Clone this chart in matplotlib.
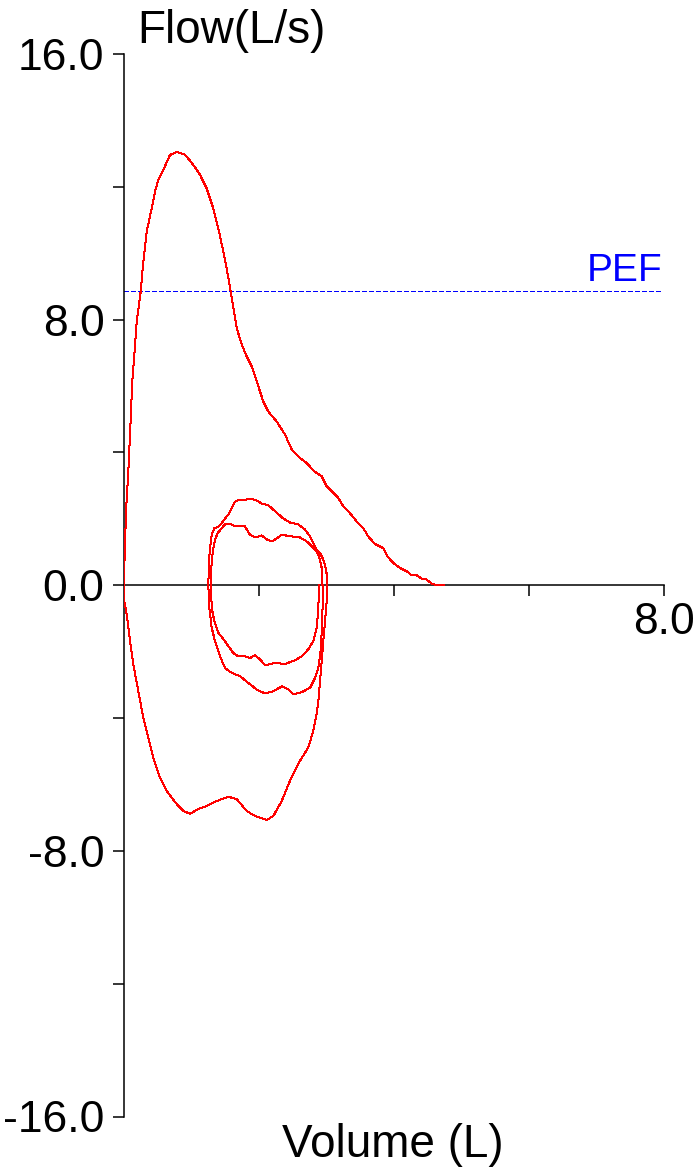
import matplotlib
matplotlib.use("Agg")
import matplotlib.pyplot as plt
from matplotlib.ticker import FixedLocator, FixedFormatter

plt.rcParams['font.family'] = ['Liberation Sans', 'DejaVu Sans']

# ---- data (Volume in L, Flow in L/s) ----
exp_vol = [0.0, 0.007, 0.03, 0.064, 0.089, 0.123, 0.153, 0.188, 0.247, 0.286, 0.336, 0.410, 0.459,
           0.508, 0.582, 0.681, 0.781, 0.904, 1.027, 1.126, 1.225, 1.323, 1.397, 1.471, 1.530,
           1.581, 1.630, 1.670, 1.744, 1.818, 1.892, 1.966, 2.064, 2.138, 2.262, 2.385, 2.484,
           2.607, 2.707, 2.819, 2.929, 3.003, 3.077, 3.175, 3.249, 3.348, 3.447, 3.545, 3.619,
           3.719, 3.841, 3.901, 3.990, 4.089, 4.188, 4.262, 4.336, 4.410, 4.484, 4.559, 4.633, 4.745]
exp_flow = [0.0, 0.72, 2.23, 3.43, 4.54, 6.14, 6.95, 7.94, 8.84, 9.74, 10.65, 11.35, 11.85,
            12.21, 12.51, 12.96, 13.05, 12.97, 12.66, 12.36, 11.95, 11.35, 10.75, 10.05, 9.44,
            8.84, 8.24, 7.74, 7.25, 6.89, 6.59, 6.14, 5.53, 5.23, 4.93, 4.54, 4.09,
            3.83, 3.68, 3.43, 3.28, 2.98, 2.83, 2.63, 2.38, 2.17, 1.92, 1.72, 1.47,
            1.24, 1.12, 0.87, 0.67, 0.52, 0.42, 0.30, 0.30, 0.20, 0.17, 0.05, 0.0, 0.0]

insp_vol = [0.0, 0.004, 0.040, 0.089, 0.138, 0.212, 0.286, 0.360, 0.434, 0.533, 0.633, 0.781,
            0.879, 0.978, 1.101, 1.225, 1.373, 1.545, 1.670, 1.818, 1.941, 2.114, 2.212, 2.336,
            2.459, 2.607, 2.730, 2.804, 2.855, 2.879, 2.904, 2.929, 2.953, 2.978, 3.003, 3.012]
insp_flow = [0.0, -0.48, -0.87, -1.68, -2.38, -3.19, -4.00, -4.60, -5.20, -5.80, -6.20, -6.59,
             -6.80, -6.88, -6.74, -6.65, -6.50, -6.37, -6.44, -6.80, -6.95, -7.07, -6.95, -6.50,
             -5.89, -5.29, -4.89, -4.39, -3.85, -3.49, -2.89, -2.29, -1.68, -1.08, -0.48, 0.0]

tidal1_exp_vol = [1.249, 1.259, 1.274, 1.299, 1.338, 1.388, 1.437, 1.486, 1.545, 1.596, 1.644,
                  1.693, 1.767, 1.867, 1.966, 2.040, 2.138, 2.237, 2.360, 2.459, 2.582, 2.681,
                  2.756, 2.804, 2.855, 2.904, 2.953, 2.988, 3.012, 3.012]
tidal1_exp_flow = [0.0, 0.72, 1.12, 1.52, 1.72, 1.75, 1.84, 1.98, 2.13, 2.32, 2.51,
                   2.57, 2.56, 2.61, 2.55, 2.46, 2.41, 2.23, 2.01, 1.89, 1.83, 1.68,
                   1.47, 1.27, 1.07, 0.97, 0.77, 0.52, 0.22, 0.0]
tidal1_insp_vol = [1.249, 1.264, 1.299, 1.348, 1.422, 1.496, 1.596, 1.719, 1.841, 1.966, 2.089,
                   2.212, 2.345, 2.434, 2.508, 2.633, 2.756, 2.830, 2.879, 2.919, 2.938, 2.953]
tidal1_insp_flow = [0.0, -0.68, -1.28, -1.68, -2.14, -2.49, -2.64, -2.74, -2.94, -3.14, -3.26,
                    -3.19, -3.04, -3.14, -3.29, -3.22, -3.09, -2.79, -2.49, -1.89, -0.88, 0.0]

tidal2_exp_vol = [1.284, 1.299, 1.323, 1.348, 1.388, 1.447, 1.496, 1.570, 1.644, 1.793, 1.867,
                  1.941, 2.040, 2.138, 2.212, 2.336, 2.484, 2.607, 2.707, 2.781, 2.855, 2.904,
                  2.929, 2.938]
tidal2_exp_flow = [0.0, 0.72, 1.12, 1.37, 1.57, 1.72, 1.83, 1.86, 1.77, 1.77, 1.52,
                   1.44, 1.50, 1.35, 1.34, 1.52, 1.47, 1.44, 1.32, 1.17, 1.02, 0.77,
                   0.52, 0.0]
tidal2_insp_vol = [1.289, 1.299, 1.338, 1.397, 1.471, 1.545, 1.619, 1.693, 1.793, 1.867, 1.941,
                   2.015, 2.089, 2.237, 2.385, 2.533, 2.633, 2.730, 2.804, 2.855, 2.879, 2.889]
tidal2_insp_flow = [0.0, -0.68, -1.08, -1.43, -1.62, -1.83, -2.04, -2.14, -2.14, -2.19, -2.11,
                    -2.23, -2.41, -2.34, -2.37, -2.26, -2.14, -1.93, -1.68, -1.28, -0.68, 0.0]

pef_value = 8.86
y_ticks = [-16, -8, 0, 8, 16]
y_tick_labels = ['-16.0', '-8.0', '0.0', '8.0', '16.0']
y_minor = [-12, -4, 4, 12]
x_ticks = [2, 4, 6, 8]
x_tick_labels = ['', '', '', '8.0']

# ---- figure ----
W, H = 695, 1168
fig = plt.figure(figsize=(W / 100, H / 100), dpi=100)
ax = fig.add_axes([124 / W, 1 - 1116.5 / H, 540 / W, 1062.5 / H])
ax.set_xlim(0, 8)
ax.set_ylim(-16, 16)

red = '#ff0000'
for xs, ys in [(exp_vol, exp_flow), (insp_vol, insp_flow),
               (tidal1_exp_vol, tidal1_exp_flow), (tidal1_insp_vol, tidal1_insp_flow),
               (tidal2_exp_vol, tidal2_exp_flow), (tidal2_insp_vol, tidal2_insp_flow)]:
    ax.plot(xs, ys, color=red, lw=0.72, antialiased=False, zorder=3)

# PEF line
ax.plot([0, 7.97], [pef_value, pef_value], color='#0000ff', lw=0.75, antialiased=False,
        linestyle=(0, (4.0, 2.6)), zorder=2)
ax.text(7.97, pef_value + 0.3, 'PEF', color='#0000ff', fontsize=28,
        ha='right', va='baseline')

# spines
for s in ['top', 'right']:
    ax.spines[s].set_visible(False)
ax.spines['bottom'].set_position(('data', 0))
ax.spines['bottom'].set_bounds(0, 8)
ax.spines['left'].set_bounds(-16, 16)
for s in ['bottom', 'left']:
    ax.spines[s].set_linewidth(1.1)
    ax.spines[s].set_color('black')

ax.yaxis.set_major_locator(FixedLocator(y_ticks))
ax.yaxis.set_major_formatter(FixedFormatter(y_tick_labels))
ax.yaxis.set_minor_locator(FixedLocator(y_minor))
ax.xaxis.set_major_locator(FixedLocator(x_ticks))
ax.xaxis.set_major_formatter(FixedFormatter(x_tick_labels))
ax.tick_params(axis='y', which='both', direction='out', length=8, width=1.1, pad=6,
               labelsize=32, colors='black')
ax.tick_params(axis='x', which='major', direction='out', length=8, width=1.1, pad=4,
               labelsize=32, colors='black')

fig.text(137 / W, 1 - 43 / H, 'Flow(L/s)', fontsize=33, ha='left', va='baseline')
fig.text(393 / W, 1 - 1157 / H, 'Volume (L)', fontsize=33, ha='center', va='baseline')

fig.savefig('out.png', dpi=100, facecolor='white')
